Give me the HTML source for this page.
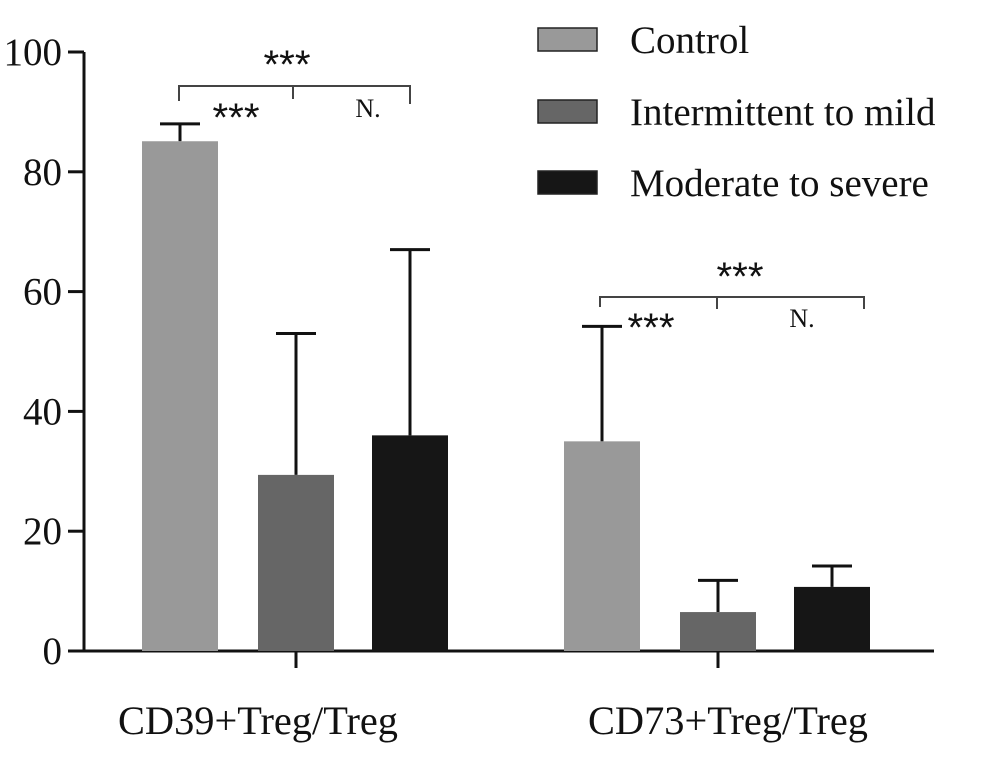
<!DOCTYPE html>
<html><head><meta charset="utf-8"><style>
html,body{margin:0;padding:0;background:#fff;}
svg{display:block;font-family:"Liberation Serif",serif;}
</style></head><body>
<svg id="chart" width="996" height="772"></svg>
<script>
const categories=["CD39+Treg/Treg","CD73+Treg/Treg"];
const seriesNames=["Control","Intermittent to mild","Moderate to severe"];
const controlValues=[85.1,35.0];
const mildValues=[29.4,6.5];
const severeValues=[36.0,10.7];
const controlErr=[88.0,54.2];
const mildErr=[53.0,11.8];
const severeErr=[67.0,14.2];
const yTicks=[0,20,40,60,80,100];
const colors=["#999999","#666666","#161616"];
const NS="http://www.w3.org/2000/svg";
const svg=document.getElementById('chart');
const y0=651,y100=52;
function yS(v){return y0-(y0-y100)*v/100;}
const groupCenters=[296,718];
const labelCenters=[258,728];
const barOffsets=[-116,0,114];
const barW=76;
function mk(t,a,txt){const e=document.createElementNS(NS,t);for(const k in a)e.setAttribute(k,a[k]);if(txt!==undefined)e.textContent=txt;svg.appendChild(e);return e;}
let e=mk('line',{x1:84,y1:y100,x2:84,y2:y0+1,stroke:'#111','stroke-width':3});


e=mk('line',{x1:83,y1:y0,x2:934,y2:y0,stroke:'#111','stroke-width':3});


yTicks.forEach(v=>{
 let t=mk('line',{x1:68,y1:yS(v),x2:84,y2:yS(v),stroke:'#111','stroke-width':3});
 
 
 let l=mk('text',{x:62,y:yS(v)+13,'text-anchor':'end','font-size':39,fill:'#111'},v);
 
 
});
const allVals=[controlValues,mildValues,severeValues];
const allErr=[controlErr,mildErr,severeErr];
categories.forEach((c,gi)=>{
 const gc=groupCenters[gi];
 let t=mk('line',{x1:gc,y1:y0,x2:gc,y2:668,stroke:'#111','stroke-width':3});
 
 
 let l=mk('text',{x:labelCenters[gi],y:734,'text-anchor':'middle','font-size':40,fill:'#111',textLength:280,lengthAdjust:'spacingAndGlyphs'},c);
 
 
 allVals.forEach((arr,si)=>{
  const cx=gc+barOffsets[si];
  const top=yS(arr[gi]);
  const et=yS(allErr[si][gi]);
  let el=mk('line',{x1:cx,y1:top,x2:cx,y2:et,stroke:'#111','stroke-width':3});
  
  
  let cap=mk('line',{x1:cx-20,y1:et,x2:cx+20,y2:et,stroke:'#111','stroke-width':3});
  
  
  let r=mk('rect',{x:cx-barW/2,y:top,width:barW,height:y0-top,fill:colors[si]});
  
  
 });
});
function bracket(x1,xm,x2,y,d1,dm,d2,topX,topC,inX,nX,inC){
 let p=mk('path',{d:`M${x1},${y+d1}V${y}H${x2}V${y+d2}M${xm},${y}V${y+dm}`,stroke:'#444','stroke-width':2,fill:'none'});
 
 
 let a=mk('text',{x:topX,y:topC+23,'text-anchor':'middle','font-size':40,'font-family':'Liberation Sans, sans-serif',fill:'#111',textLength:47,lengthAdjust:'spacingAndGlyphs'},'***');
 
 
 let b=mk('text',{x:inX,y:inC+23,'text-anchor':'middle','font-size':40,'font-family':'Liberation Sans, sans-serif',fill:'#111',textLength:47,lengthAdjust:'spacingAndGlyphs'},'***');
 
 
 let n=mk('text',{x:nX,y:inC+9,'text-anchor':'middle','font-size':26,fill:'#111'},'N.');
 
 
}
bracket(179,293,410,86,15,13,18,287,55,236,368,108);
bracket(600,717,864,297,10,12,12,740,267,651,802,318);
seriesNames.forEach((n,i)=>{
 const y=[28,100,171][i];
 let r=mk('rect',{x:538,y:y,width:59,height:23,fill:colors[i],stroke:'#222','stroke-width':1.5});
 
 
 let t=mk('text',{x:630,y:y+25,'font-size':39,fill:'#111'},n);
 
 
});
</script>
</body></html>
